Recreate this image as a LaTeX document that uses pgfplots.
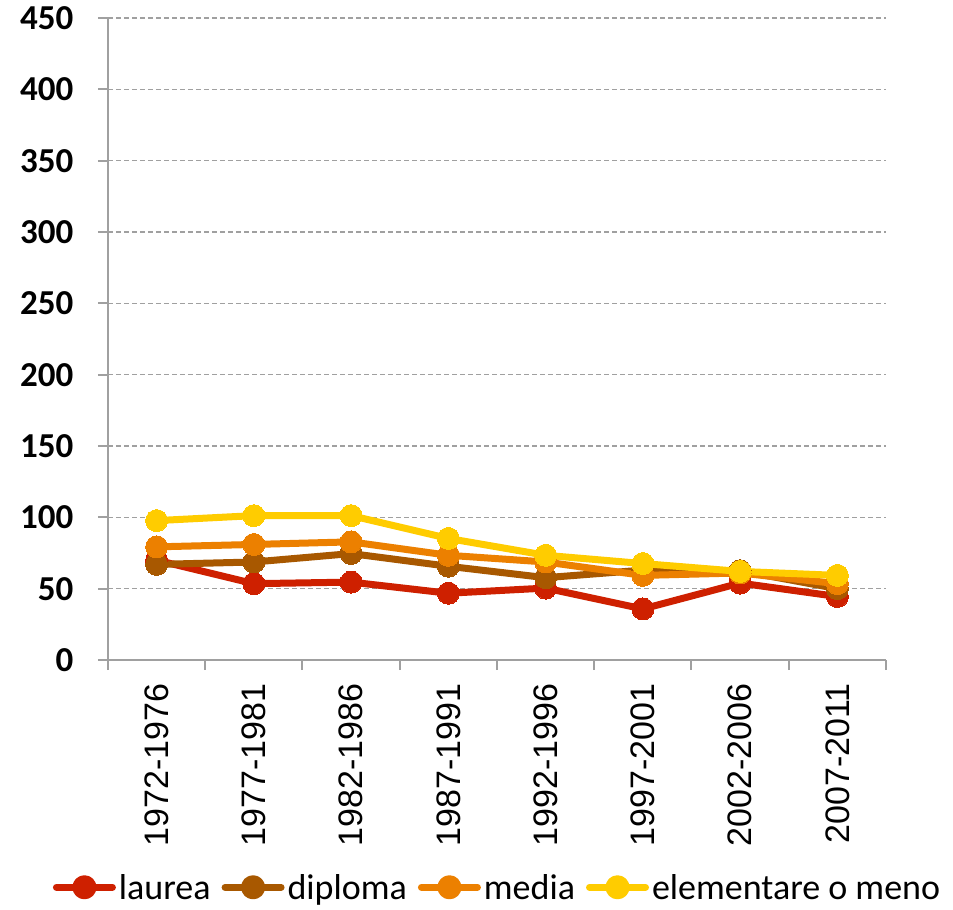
\documentclass[border=0pt]{standalone}
\usepackage{pgfplots}
\pgfplotsset{compat=1.18}
\usepackage{fontspec}
\setmainfont{Carlito}
\newfontfamily\arialf{Liberation Sans}
\newcommand\xl[1]{\mbox{\arialf\fontsize{34}{36}\selectfont #1}}
\definecolor{cLau}{RGB}{206,32,0}
\definecolor{cDip}{RGB}{168,88,0}
\definecolor{cMed}{RGB}{236,128,0}
\definecolor{cEle}{RGB}{255,204,0}
\definecolor{axgray}{RGB}{160,160,160}
\begin{document}
\begin{tikzpicture}
\begin{axis}[
  scale only axis, width=778pt, height=642pt,
  anchor=south west, at={(0pt,0pt)},
  xmin=-0.5, xmax=7.5, ymin=0, ymax=450,
  ytick={0,50,...,450},
  xtick={-0.5,0.5,...,7.5},
  xticklabels={},
  extra x ticks={0,...,7},
  extra x tick labels={\xl{1972-1976},\xl{1977-1981},\xl{1982-1986},\xl{1987-1991},\xl{1992-1996},\xl{1997-2001},\xl{2002-2006},\xl{2007-2011}},
  extra x tick style={tick style={draw=none}, grid=none},
  axis x line*=bottom, axis y line*=left,
  axis line style={-, draw=axgray, line width=2pt},
  tick align=outside,
  major tick length=10pt,
  tick style={draw=axgray, line width=2pt},
  ymajorgrids,
  grid style={dash pattern=on 5pt off 3pt, draw=axgray, line width=1.2pt},
  /pgf/number format/assume math mode=true,
  yticklabel style={font=\fontsize{35}{40}\selectfont\bfseries, xshift=-21pt},
  xticklabel style={rotate=90, anchor=east, xshift=-10pt},
  legend columns=4,
  legend style={draw=none, at={(0.5,-0.354)}, anchor=center, font=\fontsize{36}{40}\selectfont,
    nodes={inner sep=1pt},
    /tikz/every odd column/.append style={column sep=2pt},
    /tikz/every even column/.append style={column sep=10pt}},
  legend image code/.code={\draw[#1, line width=7pt, line cap=round] (0pt,0pt) -- (56pt,0pt); \fill[#1] (28pt,0pt) circle (8.5pt);},
  every axis plot/.append style={line width=7pt, mark=*, mark size=11pt, line join=round},
]
\addplot[color=cLau, mark options={fill=cLau, draw=cLau, line width=0pt}] coordinates {(0,70) (1,53.5) (2,54.6) (3,46.8) (4,50.4) (5,35.8) (6,53.9) (7,44.5)};
\addlegendentry{laurea}
\addplot[color=cDip, mark options={fill=cDip, draw=cDip, line width=0pt}] coordinates {(0,67) (1,68.7) (2,74.6) (3,65.7) (4,57.7) (5,63) (6,62.6) (7,50)};
\addlegendentry{diploma}
\addplot[color=cMed, mark options={fill=cMed, draw=cMed, line width=0pt}] coordinates {(0,79.3) (1,81) (2,82.8) (3,73.4) (4,68.7) (5,59.3) (6,61) (7,53.5)};
\addlegendentry{media}
\addplot[color=cEle, mark options={fill=cEle, draw=cEle, line width=0pt}] coordinates {(0,97.7) (1,101.2) (2,101.2) (3,85.2) (4,73.4) (5,67.6) (6,62.1) (7,59.3)};
\addlegendentry{elementare o meno}
\end{axis}
\pgfresetboundingbox
\path[use as bounding box] (-108pt,-250pt) rectangle (845pt,660pt);
\end{tikzpicture}
\end{document}
